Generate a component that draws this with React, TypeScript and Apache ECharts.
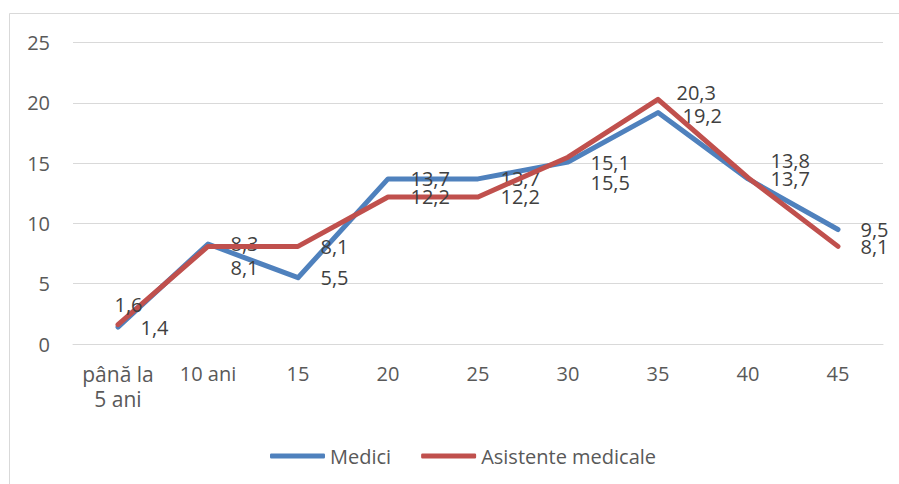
import React, { useEffect, useRef } from "react";
import * as echarts from "echarts";

const categories = ["până la\n5 ani", "10 ani", "15", "20", "25", "30", "35", "40", "45"];
const medici = [1.4, 8.3, 5.5, 13.7, 13.7, 15.1, 19.2, 13.7, 9.5];
const asistente = [1.6, 8.1, 8.1, 12.2, 12.2, 15.5, 20.3, 13.8, 8.1];
const seriesNames = ["Medici", "Asistente medicale"];
// label nudges (Excel overlap avoidance), per point index
const mediciOffsets: Record<number, [number, number]> = { 6: [2, 3] };
const asistenteOffsets: Record<number, [number, number]> = {
  0: [-26, -20],
  1: [0, 21],
  5: [0, 25],
  6: [-4, -7],
  7: [0, -17],
};

const FONT = "'Open Sans', 'Noto Sans', sans-serif";

function buildData(vals: number[], offs: Record<number, [number, number]>) {
  return vals.map((v, i) =>
    offs[i] ? { value: v, label: { offset: offs[i] } } : { value: v }
  );
}

export default function App() {
  const ref = useRef<HTMLDivElement>(null);
  useEffect(() => {
    if (!ref.current) return;
    const chart = echarts.init(ref.current, undefined, { renderer: "svg" });
    const labelCfg = {
      show: true,
      position: "right",
      distance: 22,
      color: "#404040",
      fontSize: 20,
      fontFamily: FONT,
      formatter: (p: any) => String(p.value).replace(".", ","),
    };
    chart.setOption({
      animation: false,
      backgroundColor: "#ffffff",
      graphic: [
        {
          type: "rect",
          shape: { x: 9.5, y: 13.5, width: 1200, height: 1200 },
          style: { fill: "none", stroke: "#d9d9d9", lineWidth: 1 },
          silent: true,
          z: -10,
        },
      ],
      grid: { left: 73, right: 16, top: 42.7, bottom: 140, containLabel: false },
      legend: {
        left: 265,
        top: 441,
        icon: "roundRect",
        itemWidth: 55,
        itemHeight: 5,
        itemGap: 30,
        textStyle: { color: "#595959", fontSize: 20, fontFamily: FONT },
        data: seriesNames,
      },
      xAxis: {
        type: "category",
        data: categories,
        boundaryGap: true,
        axisLine: { show: true, lineStyle: { color: "#d9d9d9", width: 1 } },
        axisTick: { show: false },
        axisLabel: {
          interval: 0,
          margin: 17,
          color: "#595959",
          fontSize: 20,
          fontFamily: FONT,
          lineHeight: 25,
          formatter: (v: string, i: number) => (i === 0 ? "{big|" + v.split("\n").join("}\n{big|") + "}" : v),
          rich: {
            big: { fontSize: 21, lineHeight: 25, color: "#595959", fontFamily: FONT },
          },
        },
      },
      yAxis: {
        type: "value",
        min: 0,
        max: 25,
        interval: 5,
        axisLine: { show: false },
        axisTick: { show: false },
        splitLine: { lineStyle: { color: "#d9d9d9", width: 1 } },
        axisLabel: { margin: 23, color: "#595959", fontSize: 20, fontFamily: FONT },
      },
      series: [
        {
          name: seriesNames[0],
          type: "line",
          symbol: "circle",
          symbolSize: 1,
          showSymbol: true,
          data: buildData(medici, mediciOffsets),
          lineStyle: { color: "#4F81BD", width: 5, cap: "round", join: "round" },
          itemStyle: { color: "#4F81BD" },
          label: labelCfg,
          z: 2,
        },
        {
          name: seriesNames[1],
          type: "line",
          symbol: "circle",
          symbolSize: 1,
          showSymbol: true,
          data: buildData(asistente, asistenteOffsets),
          lineStyle: { color: "#C0504D", width: 5, cap: "round", join: "round" },
          itemStyle: { color: "#C0504D" },
          label: labelCfg,
          z: 3,
        },
      ],
    });
    return () => chart.dispose();
  }, []);
  return (
    <div
      ref={ref}
      style={{ position: "absolute", left: 0, top: 0, width: 899, height: 484 }}
    />
  );
}
